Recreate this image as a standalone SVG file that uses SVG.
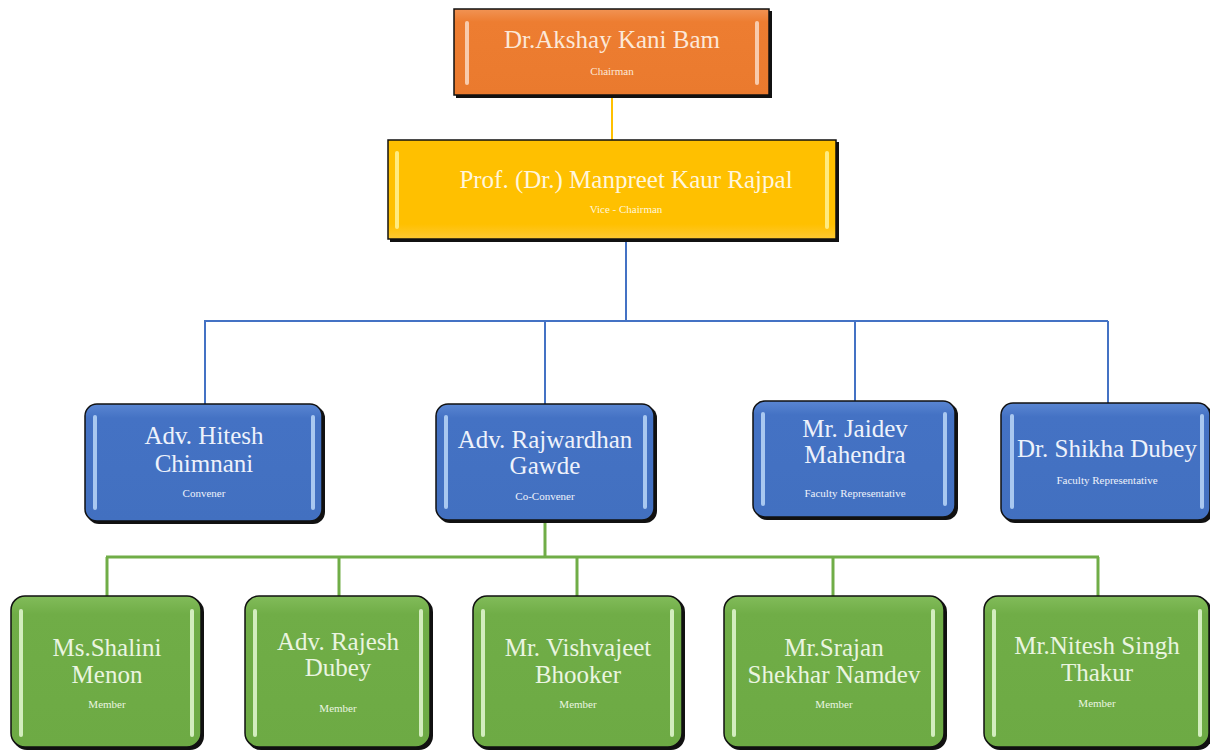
<svg xmlns="http://www.w3.org/2000/svg" width="1210" height="751" viewBox="0 0 1210 751">
<defs>
<linearGradient id="gO" x1="0" y1="0" x2="0" y2="1"><stop offset="0" stop-color="#F19354"/><stop offset="0.15" stop-color="#ED7D31"/><stop offset="1" stop-color="#EA7A2E"/></linearGradient>
<linearGradient id="gY" x1="0" y1="0" x2="0" y2="1"><stop offset="0" stop-color="#FFC000"/><stop offset="0.85" stop-color="#FFC000"/><stop offset="1" stop-color="#FFCA33"/></linearGradient>
<linearGradient id="gB" x1="0" y1="0" x2="0" y2="1"><stop offset="0" stop-color="#5A86D2"/><stop offset="0.12" stop-color="#4472C4"/><stop offset="1" stop-color="#4270C0"/></linearGradient>
<linearGradient id="gG" x1="0" y1="0" x2="0" y2="1"><stop offset="0" stop-color="#82BC5A"/><stop offset="0.12" stop-color="#70AD47"/><stop offset="1" stop-color="#6DAA44"/></linearGradient>
</defs>
<style>
.sh{fill:#111}
.bd{stroke:#111;stroke-width:1.5}
.o{fill:url(#gO)} .y{fill:url(#gY)} .b{fill:url(#gB)} .g{fill:url(#gG)}
.bo{fill:#F8CBAD} .by{fill:#FFEB80} .bb{fill:#A9C8F0} .bg{fill:#D3EDBE}
text{font-family:"Liberation Serif","Times New Roman",serif;text-anchor:middle}
.n{font-size:25px}
.s{font-size:11px}
.to{fill:#FCE8D8} .ty{fill:#FFF6DC} .tb{fill:#EEF2FB} .tg{fill:#EAF5E0}
.c{fill:none}
</style>
<g id="connectors">
<line class="c" x1="612" y1="96" x2="612" y2="140" stroke="#FFC000" stroke-width="2"/>
<g stroke="#4472C4" stroke-width="2" class="c">
<line x1="626" y1="241" x2="626" y2="321"/>
<line x1="204" y1="321" x2="1108" y2="321"/>
<line x1="205" y1="321" x2="205" y2="404"/>
<line x1="545" y1="321" x2="545" y2="404"/>
<line x1="855" y1="321" x2="855" y2="401"/>
<line x1="1108" y1="321" x2="1108" y2="403"/>
</g>
<g stroke="#70AD47" stroke-width="3" class="c">
<line x1="545" y1="521" x2="545" y2="557"/>
<line x1="106" y1="557" x2="1099" y2="557"/>
<line x1="107" y1="557" x2="107" y2="596"/>
<line x1="339" y1="557" x2="339" y2="596"/>
<line x1="577" y1="557" x2="577" y2="596"/>
<line x1="833" y1="557" x2="833" y2="596"/>
<line x1="1098" y1="557" x2="1098" y2="596"/>
</g>
</g>
<g id="chairman">
<rect class="sh" x="456" y="11" width="316" height="87"/>
<rect class="o bd" x="454" y="9" width="315" height="86"/>
<rect class="bo" x="465" y="21" width="4" height="64" rx="2"/>
<rect class="bo" x="755" y="21" width="4" height="64" rx="2"/>
<text class="n to" x="612" y="48">Dr.Akshay Kani Bam</text>
<text class="s to" x="612" y="75">Chairman</text>
</g>
<g id="vice-chairman">
<rect class="sh" x="390" y="142" width="449" height="100"/>
<rect class="y bd" x="388" y="140" width="448" height="99"/>
<rect class="by" x="395" y="151" width="4" height="78" rx="2"/>
<rect class="by" x="825" y="151" width="4" height="78" rx="2"/>
<text class="n ty" x="626" y="188">Prof. (Dr.) Manpreet Kaur Rajpal</text>
<text class="s ty" x="626" y="213">Vice - Chairman</text>
</g>
<g id="hitesh">
<rect class="sh" x="87" y="406" width="238" height="118" rx="12"/>
<rect class="b bd" x="85" y="404" width="237" height="117" rx="12"/>
<rect class="bb" x="93" y="415" width="4" height="95" rx="2"/>
<rect class="bb" x="311" y="415" width="4" height="95" rx="2"/>
<text class="n tb" x="204" y="444">Adv. Hitesh</text>
<text class="n tb" x="204" y="472">Chimnani</text>
<text class="s tb" x="204" y="497">Convener</text>
</g>
<g id="rajwardhan">
<rect class="sh" x="438" y="406" width="219" height="117" rx="12"/>
<rect class="b bd" x="436" y="404" width="218" height="116" rx="12"/>
<rect class="bb" x="444" y="415" width="4" height="94" rx="2"/>
<rect class="bb" x="643" y="415" width="4" height="94" rx="2"/>
<text class="n tb" x="545" y="448">Adv. Rajwardhan</text>
<text class="n tb" x="545" y="474">Gawde</text>
<text class="s tb" x="545" y="500">Co-Convener</text>
</g>
<g id="jaidev">
<rect class="sh" x="755" y="403" width="203" height="117" rx="12"/>
<rect class="b bd" x="753" y="401" width="202" height="116" rx="12"/>
<rect class="bb" x="761" y="412" width="4" height="94" rx="2"/>
<rect class="bb" x="943" y="412" width="4" height="94" rx="2"/>
<text class="n tb" x="855" y="437">Mr. Jaidev</text>
<text class="n tb" x="855" y="463">Mahendra</text>
<text class="s tb" x="855" y="497">Faculty Representative</text>
</g>
<g id="shikha">
<rect class="sh" x="1003" y="405" width="210" height="118" rx="12"/>
<rect class="b bd" x="1001" y="403" width="209" height="117" rx="12"/>
<rect class="bb" x="1010" y="414" width="4" height="95" rx="2"/>
<rect class="bb" x="1200" y="414" width="4" height="95" rx="2"/>
<text class="n tb" x="1107" y="457">Dr. Shikha Dubey</text>
<text class="s tb" x="1107" y="484">Faculty Representative</text>
</g>
<g id="shalini">
<rect class="sh" x="13" y="598" width="191" height="152" rx="14"/>
<rect class="g bd" x="11" y="596" width="190" height="151" rx="14"/>
<rect class="bg" x="19" y="609" width="4" height="128" rx="2"/>
<rect class="bg" x="190" y="609" width="4" height="128" rx="2"/>
<text class="n tg" x="107" y="656">Ms.Shalini</text>
<text class="n tg" x="107" y="683">Menon</text>
<text class="s tg" x="107" y="708">Member</text>
</g>
<g id="rajesh">
<rect class="sh" x="247" y="598" width="186" height="152" rx="14"/>
<rect class="g bd" x="245" y="596" width="185" height="151" rx="14"/>
<rect class="bg" x="253" y="609" width="4" height="128" rx="2"/>
<rect class="bg" x="419" y="609" width="4" height="128" rx="2"/>
<text class="n tg" x="338" y="650">Adv. Rajesh</text>
<text class="n tg" x="338" y="676">Dubey</text>
<text class="s tg" x="338" y="712">Member</text>
</g>
<g id="vishvajeet">
<rect class="sh" x="475" y="598" width="210" height="152" rx="14"/>
<rect class="g bd" x="473" y="596" width="209" height="151" rx="14"/>
<rect class="bg" x="481" y="609" width="4" height="128" rx="2"/>
<rect class="bg" x="670" y="609" width="4" height="128" rx="2"/>
<text class="n tg" x="578" y="656">Mr. Vishvajeet</text>
<text class="n tg" x="578" y="683">Bhooker</text>
<text class="s tg" x="578" y="708">Member</text>
</g>
<g id="srajan">
<rect class="sh" x="726" y="598" width="221" height="152" rx="14"/>
<rect class="g bd" x="724" y="596" width="220" height="151" rx="14"/>
<rect class="bg" x="732" y="609" width="4" height="128" rx="2"/>
<rect class="bg" x="931" y="609" width="4" height="128" rx="2"/>
<text class="n tg" x="834" y="656">Mr.Srajan</text>
<text class="n tg" x="834" y="683">Shekhar Namdev</text>
<text class="s tg" x="834" y="708">Member</text>
</g>
<g id="nitesh">
<rect class="sh" x="986" y="598" width="226" height="152" rx="14"/>
<rect class="g bd" x="984" y="596" width="225" height="151" rx="14"/>
<rect class="bg" x="992" y="609" width="4" height="128" rx="2"/>
<rect class="bg" x="1198" y="609" width="4" height="128" rx="2"/>
<text class="n tg" x="1097" y="654">Mr.Nitesh Singh</text>
<text class="n tg" x="1097" y="681">Thakur</text>
<text class="s tg" x="1097" y="707">Member</text>
</g>
</svg>
